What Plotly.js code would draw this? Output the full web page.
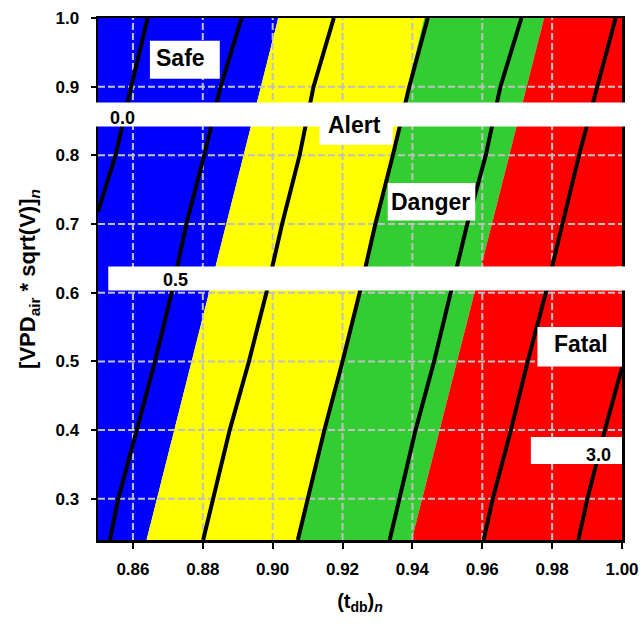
<!DOCTYPE html>
<html>
<head>
<meta charset="utf-8">
<script src="https://cdn.plot.ly/plotly-3.0.1.min.js"></script>
<style>html,body{margin:0;padding:0;background:#fff;}#chart{width:644px;height:624px;}</style>
</head>
<body>
<div id="chart"></div>
<script>
// ---- data ----
const xRange = [0.85, 1.00];
const yRange = [0.24, 1.00];
const xTicks = [0.86, 0.88, 0.90, 0.92, 0.94, 0.96, 0.98, 1.00];
const xTickText = ['0.86', '0.88', '0.90', '0.92', '0.94', '0.96', '0.98', '1.00'];
const yTicks = [0.3, 0.4, 0.5, 0.6, 0.7, 0.8, 0.9, 1.0];
const yTickText = ['0.3', '0.4', '0.5', '0.6', '0.7', '0.8', '0.9', '1.0'];

// zone boundaries: x at y = 0.24 (bottom) and y = 1.0 (top)
const boundaryY = [0.24, 1.00];
const safeAlertX = [0.8639, 0.9016];
const alertDangerX = [0.9075, 0.9434];
const dangerFatalX = [0.9398, 0.9777];

const zoneNames = ['Safe', 'Alert', 'Danger', 'Fatal'];
const zoneColors = ['#0000FF', '#FFFF00', '#33CC33', '#FF0000'];

// contour lines
const gridY = [0.24, 0.3, 0.4, 0.5, 0.6, 0.7, 0.8, 0.9, 1.0];
const level00Y = [0.718, 0.8, 0.9, 1.0];
const level00X = [0.8500, 0.8550, 0.8595, 0.8642];
const level05X = [0.8534, 0.8558, 0.8611, 0.8663, 0.8711, 0.8753, 0.8804, 0.8851, 0.8911];
const level10X = [0.8801, 0.8829, 0.8877, 0.8932, 0.8982, 0.9027, 0.9077, 0.9117, 0.9175];
const level15X = [0.9072, 0.9100, 0.9148, 0.9200, 0.9249, 0.9294, 0.9344, 0.9391, 0.9444];
const level20X = [0.9335, 0.9362, 0.9409, 0.9462, 0.9510, 0.9557, 0.9610, 0.9652, 0.9712];
const level25X = [0.9604, 0.9630, 0.9682, 0.9730, 0.9782, 0.9830, 0.9877, 0.9929, 0.9982];
const level30Y = [0.24, 0.3, 0.4, 0.491];
const level30X = [0.9875, 0.9901, 0.9951, 1.0000];

const contourLabels = ['0.0', '0.5', '3.0'];

// ---- traces ----
const FONT = 'Liberation Sans, Arial, sans-serif';
const traces = [];
const bounds = [
  [xRange[0], xRange[0]],
  safeAlertX, alertDangerX, dangerFatalX,
  [xRange[1], xRange[1]]
];
for (let i = 0; i < 4; i++) {
  const L = bounds[i], R = bounds[i + 1];
  traces.push({
    type: 'scatter', mode: 'lines', name: zoneNames[i],
    x: [L[0], R[0], R[1], L[1], L[0]],
    y: [boundaryY[0], boundaryY[0], boundaryY[1], boundaryY[1], boundaryY[0]],
    fill: 'toself', fillcolor: zoneColors[i],
    line: {width: 0, color: zoneColors[i]}, hoverinfo: 'skip'
  });
}
// dashed grid (drawn above the zone fills)
const gx = [], gyv = [];
xTicks.filter(v => v > xRange[0] && v < xRange[1]).forEach(v => {
  gx.push(v, v, null); gyv.push(yRange[0], yRange[1], null);
});
const hx = [], hy = [];
yTicks.filter(v => v > yRange[0] && v < yRange[1]).forEach(v => {
  hx.push(xRange[0], xRange[1], null); hy.push(v, v, null);
});
const gridStyle = {color: '#C0C0C0', width: 2, dash: '7px,3px'};
traces.push({type: 'scatter', mode: 'lines', x: gx, y: gyv, line: gridStyle, hoverinfo: 'skip', connectgaps: false});
traces.push({type: 'scatter', mode: 'lines', x: hx, y: hy, line: gridStyle, hoverinfo: 'skip', connectgaps: false});

const contours = [
  [level00X, level00Y], [level05X, gridY], [level10X, gridY], [level15X, gridY],
  [level20X, gridY], [level25X, gridY], [level30X, level30Y]
];
contours.forEach(c => traces.push({
  type: 'scatter', mode: 'lines', x: c[0], y: c[1],
  line: {color: '#000000', width: 4}, hoverinfo: 'skip'
}));

// ---- white label boxes ----
const white = {fillcolor: '#FFFFFF', line: {width: 0}, layer: 'above', type: 'rect'};
const shapes = [
  Object.assign({xref: 'paper', yref: 'y', x0: -0.012, x1: 1.012, y0: 0.8421, y1: 0.8771}, white),
  Object.assign({xref: 'x', yref: 'y', x0: 0.85294, x1: 1.0, y0: 0.6033, y1: 0.6383}, white),
  Object.assign({xref: 'paper', yref: 'y', x0: 0.99, x1: 1.012, y0: 0.6033, y1: 0.6383}, white),
  Object.assign({xref: 'x', yref: 'y', x0: 0.86486, x1: 0.88486, y0: 0.91161, y1: 0.96694}, white),
  Object.assign({xref: 'x', yref: 'y', x0: 0.91343, x1: 0.93437, y0: 0.8155, y1: 0.8767}, white),
  Object.assign({xref: 'x', yref: 'y', x0: 0.93294, x1: 0.95800, y0: 0.70526, y1: 0.75972}, white),
  Object.assign({xref: 'x', yref: 'y', x0: 0.97580, x1: 1.0015, y0: 0.49265, y1: 0.55003}, white),
  Object.assign({xref: 'x', yref: 'y', x0: 0.97391, x1: 1.0015, y0: 0.35049, y1: 0.38992}, white)
];

const big = {family: FONT, size: 23, color: '#000', weight: 'bold'};
const small = {family: FONT, size: 18, color: '#000', weight: 'bold'};
const ann = (text, x, y, font) => ({text, x, y, xref: 'x', yref: 'y', showarrow: false,
  font, xanchor: 'center', yanchor: 'middle'});
const annotations = [
  ann(zoneNames[0], 0.87371, 0.9422, big),
  ann(zoneNames[1], 0.92343, 0.8446, big),
  ann(zoneNames[2], 0.94514, 0.7320, big),
  ann(zoneNames[3], 0.98820, 0.5247, big),
  ann(contourLabels[0], 0.85709, 0.8545, small),
  ann(contourLabels[1], 0.87214, 0.6189, small),
  ann(contourLabels[2], 0.99314, 0.3641, small)
];

const axisCommon = {
  showgrid: false, zeroline: false, showline: true, linecolor: '#000', linewidth: 2.5,
  mirror: true, ticks: 'outside', tickcolor: '#000', tickwidth: 2,
  tickfont: {family: FONT, size: 17, color: '#000', weight: 'bold'}, layer: 'above traces'
};

const layout = {
  width: 644, height: 624,
  margin: {l: 98, r: 22, t: 18, b: 84},
  paper_bgcolor: '#FFFFFF', plot_bgcolor: '#FFFFFF',
  showlegend: false,
  font: {family: FONT, color: '#000'},
  xaxis: Object.assign({}, axisCommon, {
    range: xRange, tickvals: xTicks, ticktext: xTickText, ticklen: 6, ticklabelstandoff: 6,
    title: {text: '(t<sub>db</sub>)<sub><i>n</i></sub>', font: {family: FONT, size: 20, color: '#000', weight: 'bold'}, standoff: 16}
  }),
  yaxis: Object.assign({}, axisCommon, {
    range: yRange, tickvals: yTicks, ticktext: yTickText, ticklen: 5, ticklabelstandoff: 8,
    title: {text: '[VPD<sub>air</sub> * sqrt(V)]<sub><i>n</i></sub>', font: {family: FONT, size: 22, color: '#000', weight: 'bold'}, standoff: 14}
  }),
  shapes, annotations
};

Plotly.newPlot('chart', traces, layout, {staticPlot: true, displayModeBar: false});
</script>
</body>
</html>
